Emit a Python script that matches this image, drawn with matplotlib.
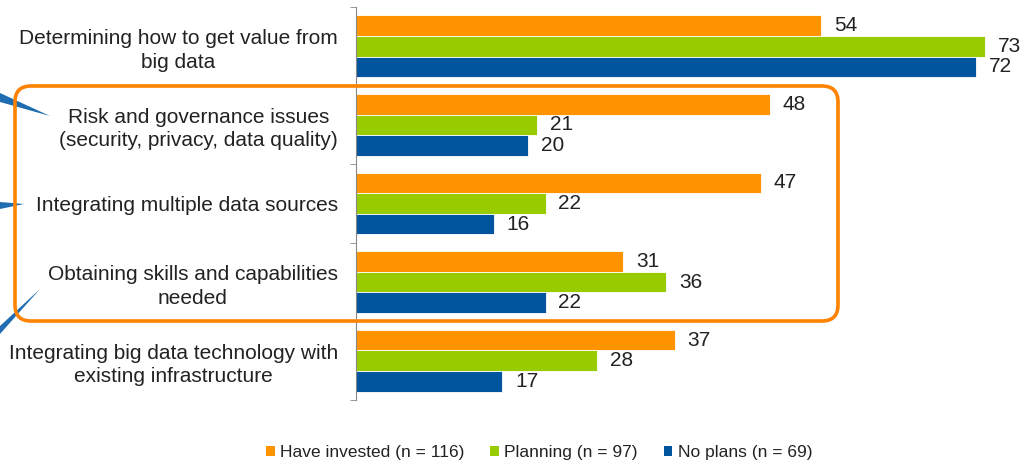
import matplotlib.pyplot as plt
import numpy as np
from matplotlib.patches import FancyBboxPatch, Polygon, Patch

plt.rcParams['font.family'] = ['Liberation Sans', 'DejaVu Sans']

# data (percent of respondents)
categories = [
    "Determining how to get value from\nbig data",
    "Risk and governance issues\n(security, privacy, data quality)",
    "Integrating multiple data sources",
    "Obtaining skills and capabilities\nneeded",
    "Integrating big data technology with\nexisting infrastructure",
]
have_invested = [54, 48, 47, 31, 37]
planning = [73, 21, 22, 36, 28]
no_plans = [72, 20, 16, 22, 17]
series_names = ["Have invested (n = 116)", "Planning (n = 97)", "No plans (n = 69)"]
colors = ["#FF9400", "#99CC00", "#00559E"]

W, H = 1027, 467
fig = plt.figure(figsize=(W / 100, H / 100), dpi=100)
ax = fig.add_axes([356 / W, (H - 400) / H, 672 / W, 393 / H])

y = np.arange(len(categories))
bh = 0.262
for k, (vals, col) in enumerate(zip([have_invested, planning, no_plans], colors)):
    pos = y + (k - 1) * bh
    ax.barh(pos, vals, height=bh, color=col, edgecolor="white", linewidth=0.6)
    for p, v in zip(pos, vals):
        ax.text(v + 1.5, p, str(v), va="center", ha="left", fontsize=15, color="#222222")

ax.set_xlim(0, 78)
ax.set_ylim(len(categories) - 0.5, -0.5)
ax.set_xticks([])
ax.set_yticks(y)
ax.set_yticklabels(categories, fontsize=15, color="#222222", linespacing=1.3)
for lab in ax.get_yticklabels():
    lab.set_multialignment("center")
ax.tick_params(axis="y", which="major", length=0, pad=13)
ax.set_yticks(np.arange(-0.5, len(categories)), minor=True)
ax.tick_params(axis="y", which="minor", length=4, color="#888888")
for s in ["top", "right", "bottom"]:
    ax.spines[s].set_visible(False)
ax.spines["left"].set_color("#888888")

# orange highlight box around the middle three categories
box = FancyBboxPatch((15 / 100, (H - 321) / 100), (838 - 15) / 100, (321 - 86) / 100,
                     boxstyle="round,pad=0,rounding_size=0.16",
                     transform=fig.dpi_scale_trans, fill=False,
                     edgecolor="#FF8200", linewidth=2.6, zorder=5)
fig.patches.append(box)

# blue callout wedges coming in from the left
wedges = [
    [(0, 93), (0, 102), (50, 116)],
    [(0, 202), (0, 209), (24, 204)],
    [(0, 326), (0, 334), (40, 289)],
]
for w in wedges:
    pts = [(px / 100, (H - py) / 100) for px, py in w]
    fig.patches.append(Polygon(pts, closed=True, transform=fig.dpi_scale_trans,
                               facecolor="#1F6DB0", edgecolor="none"))

handles = [Patch(facecolor=c, edgecolor="none") for c in colors]
fig.legend(handles, series_names, loc="center", bbox_to_anchor=(539 / W, 1 - 453 / H),
           ncol=3, frameon=False, fontsize=12.5, handlelength=0.5, handleheight=0.5,
           handletextpad=0.3, columnspacing=1.5, labelcolor="#222222")

fig.savefig("out.png", dpi=100)
